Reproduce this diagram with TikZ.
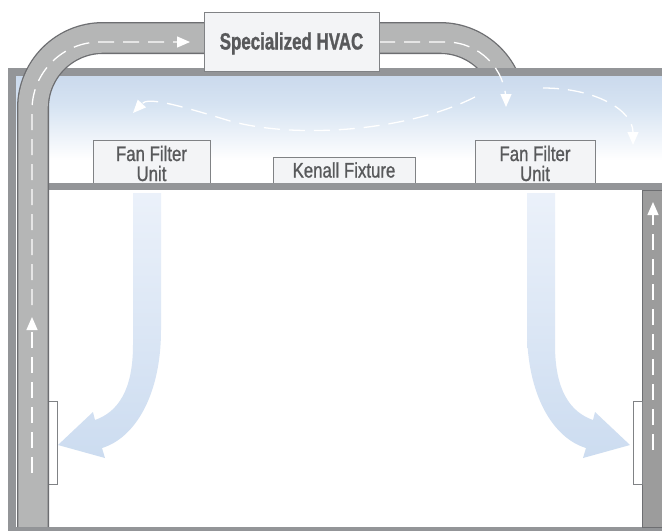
\documentclass[tikz,border=0pt]{standalone}
\usepackage{fontspec}
\setmainfont{Liberation Sans}
\newfontfamily\lblfont[FakeStretch=0.8, FakeBold=1]{Liberation Sans}
\newfontfamily\hvacfont[FakeStretch=0.72, FakeBold=1.2]{Liberation Sans}
\usetikzlibrary{arrows.meta}
\definecolor{wallgray}{HTML}{939598}
\definecolor{ductfill}{HTML}{B5B6B6}
\definecolor{ductline}{HTML}{6D6E71}
\definecolor{boxfill}{HTML}{F3F4F6}
\definecolor{boxline}{HTML}{808285}
\definecolor{txtgray}{HTML}{58595B}
\definecolor{plenumblue}{HTML}{CBDAED}
\definecolor{plenummid}{HTML}{D6E3F2}
\definecolor{arrowtop}{HTML}{EBF1FA}
\definecolor{arrowbot}{HTML}{CCDCF0}
\definecolor{rwall}{HTML}{9C9C9C}
\begin{document}
\begin{tikzpicture}[x=1pt,y=-1pt,
 airdash/.style={white, line width=1.3pt, dash pattern=on 16pt off 9pt},
 airtip/.style={-{Triangle[width=11pt,length=13pt]}},
 unitbox/.style={draw=boxline, line width=1pt, fill=boxfill, inner sep=0pt, anchor=north west},
 lbl/.style={text=txtgray, inner sep=0pt, anchor=base, font=\lblfont\fontsize{21}{22}\selectfont},
 ductout/.style={ductline, line width=32pt, rounded corners=70pt},
 ductin/.style={ductfill, line width=29.4pt, rounded corners=70pt},
 grille/.style={draw=boxline, fill=white, line width=0.8pt},
 flow/.style={top color=arrowtop, bottom color=arrowbot}]

\useasboundingbox (0,0) rectangle (662,531);
\fill[white] (0,0) rectangle (662,531);

% right part of the duct (behind the roof)
\coordinate (dr1) at (300,38);
\coordinate (dr2) at (510,38);
\coordinate (dr3) at (510,160);
\draw[ductout] (dr1) -- (dr2) -- (dr3);
\draw[ductin] (dr1) -- (dr2) -- (dr3);

% plenum
\shade[top color=plenumblue, bottom color=plenummid] (16,76) rectangle (662,105);
\shade[top color=plenummid, bottom color=white] (16,105) rectangle (662,160);

% roof and walls
\fill[wallgray] (8,68) rectangle (662,76);
\fill[wallgray] (8,68) rectangle (16,531);
\fill[wallgray] (8,527) rectangle (662,531);
\filldraw[fill=rwall, draw=ductline, line width=0.8pt] (642,190) rectangle (663,527);

% fixtures in the ceiling
\node[unitbox, minimum width=117pt, minimum height=44pt] (ffu1) at (93,140) {};
\node[unitbox, minimum width=120pt, minimum height=44pt] (ffu2) at (475,140) {};
\node[unitbox, minimum width=142pt, minimum height=27pt] (kenall) at (273,157) {};
\node[lbl] (ffu1a) at (151.5,161) {Fan Filter};
\node[lbl] (ffu1b) at (151.5,181) {Unit};
\node[lbl] (ffu2a) at (535,161) {Fan Filter};
\node[lbl] (ffu2b) at (535,181) {Unit};
\node[lbl] (kenalla) at (344,177.5) {Kenall Fixture};

% drop ceiling
\fill[wallgray] (48,183) rectangle (662,190);

% grilles
\filldraw[grille] (48,401) rectangle (57,484);
\filldraw[grille] (633,401) rectangle (642,484);

% supply air flow arrows
\shade[flow] (133,193) -- (161,193) -- (161,330) .. controls (161,395) and (135,438) .. (102,448) -- (105,458) -- (58,445) -- (93,412) -- (95,420) .. controls (118,412) and (133,390) .. (133,345) -- cycle;
\begin{scope}[xshift=688pt, xscale=-1]
\shade[flow] (133,193) -- (161,193) -- (161,330) .. controls (161,395) and (135,438) .. (102,448) -- (105,458) -- (58,445) -- (93,412) -- (95,420) .. controls (118,412) and (133,390) .. (133,345) -- cycle;
\end{scope}

% return air into the HVAC, right side
\coordinate (r0) at (379,42);
\coordinate (rc) at (506,42);
\coordinate (r1) at (506,107);
\draw[airdash, airtip, rounded corners=60pt] (r0) -- (rc) -- (r1);

% plenum circulation
\coordinate (p0) at (475,97);
\coordinate (p1) at (230,121);
\coordinate (p2) at (133,113);
\draw[airdash, airtip] (p0) .. controls (410,130) and (300,140) .. (p1) .. controls (175,104) and (148,97) .. (p2);
\coordinate (q0) at (543,88);
\coordinate (q1) at (633,145);
\draw[airdash, airtip] (q0) .. controls (595,88) and (633,110) .. (q1);

% left part of the duct (in front)
\coordinate (dl0) at (33,527);
\coordinate (dl1) at (33,38);
\coordinate (dl2) at (300,38);
\draw[ductout] (dl0) -- (dl1) -- (dl2);
\draw[ductin] (dl0) -- (dl1) -- (dl2);

% dashed air path in the left duct
\coordinate (l0) at (32,473);
\coordinate (l1) at (32,317);
\coordinate (l2) at (32,305);
\coordinate (lc) at (32,42);
\coordinate (l3) at (190,42);
\draw[airdash, airtip] (l0) -- (l1);
\draw[airdash, airtip, rounded corners=68pt] (l2) -- (lc) -- (l3);

% dashed air path in the right wall
\coordinate (w0) at (653,450);
\coordinate (w1) at (653,202);
\draw[airdash, airtip] (w0) -- (w1);

% HVAC unit
\node[unitbox, line width=1.2pt, minimum width=175pt, minimum height=59pt] (hvac) at (204,12) {};
\node[lbl, font=\hvacfont\bfseries\fontsize{23.5}{25}\selectfont] (hvaca) at (291.5,49.5) {Specialized HVAC};
\end{tikzpicture}
\end{document}
